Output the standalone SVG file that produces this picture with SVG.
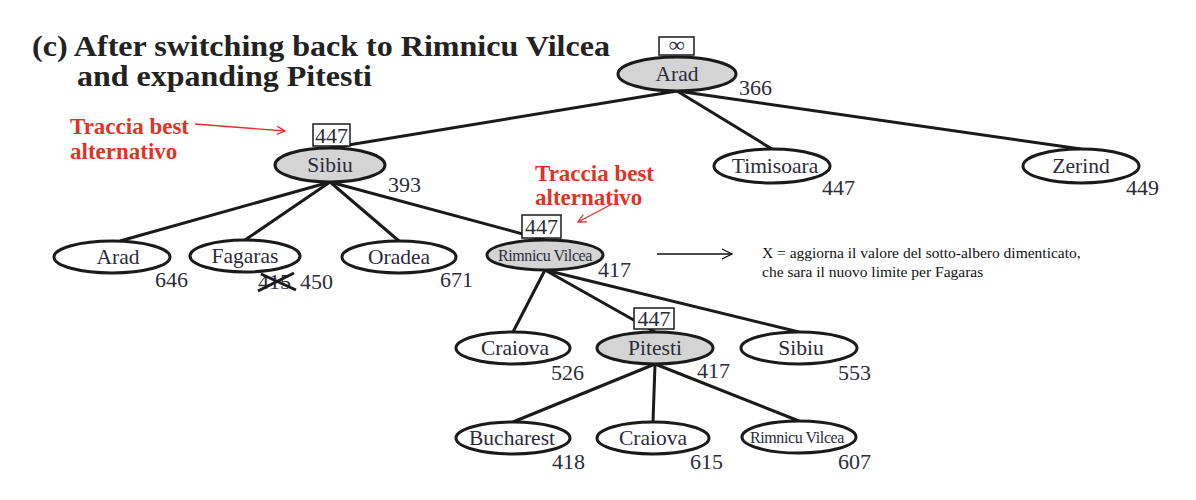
<svg xmlns="http://www.w3.org/2000/svg" width="1196" height="500" viewBox="0 0 1196 500">
<defs>
<style>
.n{stroke:#1a1a1a;stroke-width:3;fill:#fff}
.g{fill:#d4d4d4}
.t{font-family:"Liberation Serif",serif;font-size:21.5px;fill:#2b2b3a;text-anchor:middle}
.s{font-family:"Liberation Serif",serif;font-size:16px;fill:#2b2b3a;text-anchor:middle;letter-spacing:-0.4px}
.v{font-family:"Liberation Serif",serif;font-size:22px;fill:#2b2b3a}
.b{fill:#fff;stroke:#1a1a1a;stroke-width:1.5}
.e{stroke:#1a1a1a;stroke-width:3;fill:none}
.r{font-family:"Liberation Serif",serif;font-size:23px;font-weight:bold;fill:#e03326}
.ti{font-family:"Liberation Serif",serif;font-size:29px;font-weight:bold;fill:#222}
.x{font-family:"Liberation Serif",serif;font-size:15.5px;fill:#111}
</style>
<marker id="ar" markerWidth="10" markerHeight="10" refX="9" refY="5" orient="auto" markerUnits="userSpaceOnUse">
<path d="M1,1 L9,5 L1,9" fill="none" stroke="#e03326" stroke-width="1.3"/>
</marker>
<marker id="ak" markerWidth="12" markerHeight="12" refX="11" refY="6" orient="auto" markerUnits="userSpaceOnUse">
<path d="M1,1 L11,6 L1,11" fill="none" stroke="#111" stroke-width="1.3"/>
</marker>
</defs>
<rect width="1196" height="500" fill="#fff"/>
<text class="ti" x="32" y="56" textLength="578" lengthAdjust="spacingAndGlyphs">(c) After switching back to Rimnicu Vilcea</text>
<text class="ti" x="77" y="86" textLength="295" lengthAdjust="spacingAndGlyphs">and expanding Pitesti</text>

<g id="connectors">
<line class="e" x1="677" y1="91" x2="330" y2="148"/>
<line class="e" x1="677" y1="91" x2="772" y2="149"/>
<line class="e" x1="677" y1="91" x2="1081" y2="149"/>
<line class="e" x1="330" y1="182" x2="120" y2="241"/>
<line class="e" x1="330" y1="182" x2="245" y2="240"/>
<line class="e" x1="330" y1="182" x2="399" y2="241"/>
<line class="e" x1="330" y1="182" x2="545" y2="240"/>
<line class="e" x1="545" y1="270" x2="513" y2="332"/>
<line class="e" x1="545" y1="270" x2="655" y2="332"/>
<line class="e" x1="545" y1="270" x2="799" y2="332"/>
<line class="e" x1="655" y1="364" x2="513" y2="422"/>
<line class="e" x1="655" y1="364" x2="653" y2="422"/>
<line class="e" x1="655" y1="364" x2="799" y2="421"/>
</g>

<g id="n-arad">
<ellipse class="n g" cx="677" cy="74" rx="59" ry="17"/>
<text class="t" x="677" y="81">Arad</text>
<rect class="b" x="659" y="37" width="35" height="18"/>
<text class="v" x="676.5" y="52" text-anchor="middle" font-size="17" font-weight="bold">∞</text>
<text class="v" x="739" y="95">366</text>
</g>
<g id="n-sibiu">
<ellipse class="n g" cx="330" cy="165" rx="55" ry="17"/>
<text class="t" x="330" y="172">Sibiu</text>
<rect class="b" x="313" y="124" width="37" height="22"/>
<text class="v" x="331.5" y="143" text-anchor="middle">447</text>
<text class="v" x="388" y="192">393</text>
</g>
<g id="n-timisoara">
<ellipse class="n" cx="772" cy="166" rx="58" ry="17"/>
<text class="t" x="775" y="173">Timisoara</text>
<text class="v" x="822" y="195">447</text>
</g>
<g id="n-zerind">
<ellipse class="n" cx="1081" cy="166" rx="58" ry="17"/>
<text class="t" x="1081" y="173">Zerind</text>
<text class="v" x="1126" y="195">449</text>
</g>
<g id="n-arad2">
<ellipse class="n" cx="112" cy="257" rx="58" ry="16"/>
<text class="t" x="118" y="264">Arad</text>
<text class="v" x="155" y="287">646</text>
</g>
<g id="n-fagaras">
<ellipse class="n" cx="245" cy="256" rx="55" ry="16"/>
<text class="t" x="245" y="263">Fagaras</text>
<text class="v" x="258" y="289" font-size="20">415</text>
<line x1="258" y1="291" x2="294" y2="273" stroke="#1a1a1a" stroke-width="3"/>
<line x1="261" y1="274" x2="296" y2="290" stroke="#1a1a1a" stroke-width="3"/>
<text class="v" x="300" y="289">450</text>
</g>
<g id="n-oradea">
<ellipse class="n" cx="399" cy="257" rx="57" ry="16"/>
<text class="t" x="399" y="264">Oradea</text>
<text class="v" x="440" y="287">671</text>
</g>
<g id="n-rimnicu">
<ellipse class="n g" cx="545" cy="255" rx="58" ry="15"/>
<text class="s" x="545" y="261">Rimnicu Vilcea</text>
<rect class="b" x="522" y="215" width="39" height="23"/>
<text class="v" x="541.5" y="234" text-anchor="middle">447</text>
<text class="v" x="598" y="277">417</text>
</g>
<g id="n-craiova1">
<ellipse class="n" cx="513" cy="348" rx="57" ry="16"/>
<text class="t" x="515" y="355">Craiova</text>
<text class="v" x="551" y="380">526</text>
</g>
<g id="n-pitesti">
<ellipse class="n g" cx="655" cy="348" rx="58" ry="16"/>
<text class="t" x="655" y="355">Pitesti</text>
<rect class="b" x="634" y="308" width="40" height="21"/>
<text class="v" x="654" y="326" text-anchor="middle">447</text>
<text class="v" x="697" y="378">417</text>
</g>
<g id="n-sibiu2">
<ellipse class="n" cx="799" cy="348" rx="58" ry="16"/>
<text class="t" x="801" y="355">Sibiu</text>
<text class="v" x="838" y="380">553</text>
</g>
<g id="n-bucharest">
<ellipse class="n" cx="513" cy="438" rx="57" ry="16"/>
<text class="t" x="512" y="445">Bucharest</text>
<text class="v" x="552" y="469">418</text>
</g>
<g id="n-craiova2">
<ellipse class="n" cx="653" cy="438" rx="56" ry="16"/>
<text class="t" x="653" y="445">Craiova</text>
<text class="v" x="690" y="469">615</text>
</g>
<g id="n-rimnicu2">
<ellipse class="n" cx="799" cy="437" rx="57" ry="16"/>
<text class="s" x="797" y="443">Rimnicu Vilcea</text>
<text class="v" x="838" y="469">607</text>
</g>

<g id="annotations">
<text class="r" x="70" y="134">Traccia best</text>
<text class="r" x="70" y="159">alternativo</text>
<line x1="195" y1="124" x2="285" y2="131" stroke="#e03326" stroke-width="1.3" marker-end="url(#ar)"/>
<text class="r" x="535" y="181">Traccia best</text>
<text class="r" x="535" y="205">alternativo</text>
<line x1="612" y1="204" x2="578" y2="222" stroke="#e03326" stroke-width="1.3" marker-end="url(#ar)"/>
<line x1="657" y1="254" x2="732" y2="254" stroke="#111" stroke-width="1.3" marker-end="url(#ak)"/>
<text class="x" x="762" y="258">X = aggiorna il valore del sotto-albero dimenticato,</text>
<text class="x" x="762" y="277">che sara il nuovo limite per Fagaras</text>
</g>
</svg>
